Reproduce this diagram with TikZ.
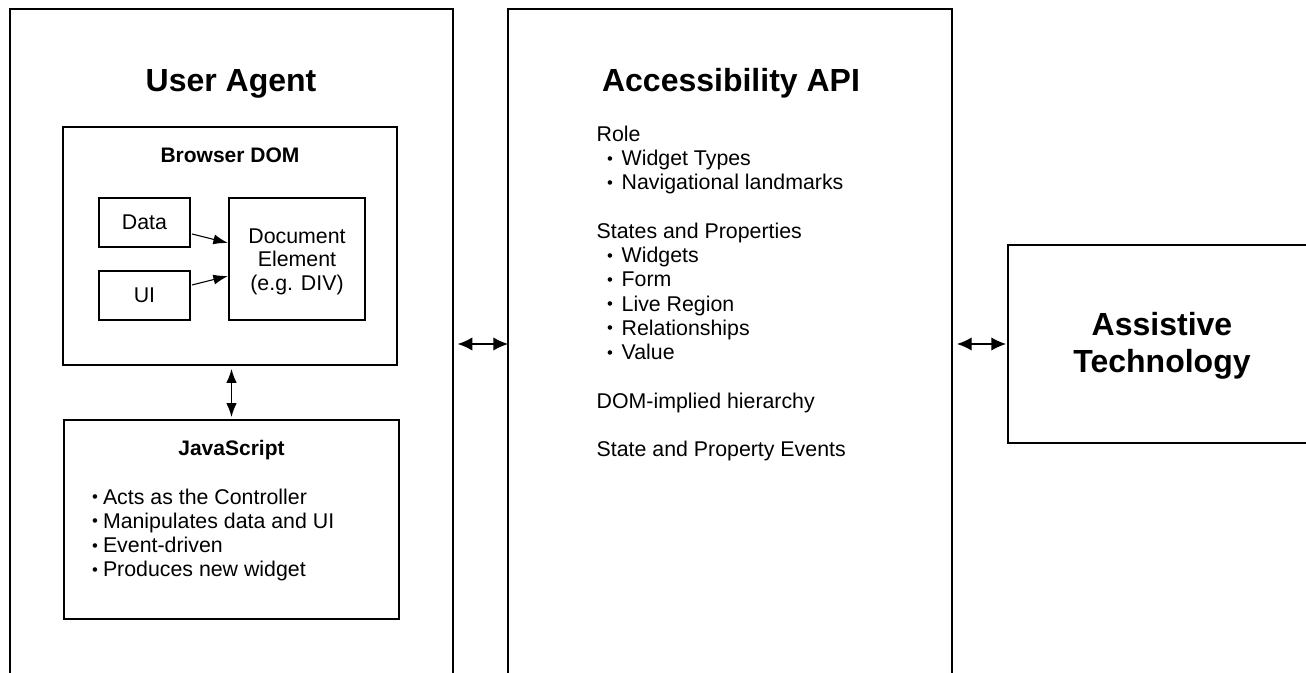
\documentclass[tikz,border=0pt]{standalone}
\usepackage{fontspec}
\setmainfont{Liberation Sans}
\usetikzlibrary{arrows.meta}
\newcommand\rbul[1]{\makebox[#1][l]{\raisebox{1.2pt}{\fontsize{12.5pt}{12.5pt}\selectfont •}}}
\begin{document}
\begin{tikzpicture}[x=0.75pt,y=-0.75pt,
  box/.style={draw, line width=1.1pt, inner sep=0pt, outer sep=0pt},
  txt/.style={inner sep=0pt, outer sep=0pt, font=\fontsize{16pt}{18pt}\selectfont},
  btxt/.style={inner sep=0pt, outer sep=0pt, font=\bfseries\fontsize{15.75pt}{18pt}\selectfont},
  ttl/.style={inner sep=0pt, outer sep=0pt, font=\bfseries\fontsize{24pt}{28pt}\selectfont},
  bigarr/.style={{Latex[length=11pt,width=10pt]}-{Latex[length=11pt,width=10pt]}, line width=1pt},
  varr/.style={{Latex[length=10.5pt,width=8pt]}-{Latex[length=10.5pt,width=8pt]}, line width=1pt},
  sarr/.style={-{Latex[length=11pt,width=7.5pt]}, line width=0.8pt}]
\useasboundingbox (0,0) rectangle (1306,673);
\clip (0,0) rectangle (1306,673);
% main containers
\node[box, minimum width=332.25pt, minimum height=525pt] (ua) at (231.5,359) {};
\node[box, minimum width=333pt, minimum height=525pt] (api) at (730,359) {};
\node[box, minimum width=231pt, minimum height=148.5pt] (at) at (1162,344) {};
\node[ttl, anchor=base] (atT1) at (1162,336) {Assistive};
\node[ttl, anchor=base] (atT2) at (1162,373) {Technology};
% titles
\node[ttl, anchor=base] (uaT) at (231,91.7) {User Agent};
\node[ttl, anchor=base] (apiT) at (731,91.7) {Accessibility API};
% browser DOM
\node[box, minimum width=250.5pt, minimum height=178.5pt] (dom) at (230,246) {};
\node[btxt, anchor=base] (domT) at (230,162.7) {Browser DOM};
\node[box, minimum width=68.25pt, minimum height=36.75pt] (data) at (144.5,222.5) {};
\node[txt, anchor=base] (dataT) at (144.5,230) {Data};
\node[box, minimum width=68.25pt, minimum height=36.75pt] (ui) at (144.5,295.5) {};
\node[txt, anchor=base] (uiT) at (144.5,302.7) {UI};
\node[box, minimum width=102pt, minimum height=91.5pt] (doc) at (297,259) {};
\node[txt, anchor=base] (doc1) at (297,243.3) {Document};
\node[txt, anchor=base] (doc2) at (297,267) {Element};
\node[txt, anchor=base] (doc3) at (297,290.7) {(e.g. DIV)};
\draw[sarr] ([xshift=1.5pt,yshift=-8.6pt]data.east) -- ([xshift=-0.75pt,yshift=12pt]doc.west);
\draw[sarr] ([xshift=1.5pt,yshift=7.9pt]ui.east) -- ([xshift=-0.75pt,yshift=-12.75pt]doc.west);
% JavaScript
\node[box, minimum width=251.25pt, minimum height=149.25pt] (js) at (231.5,519.5) {};
\node[btxt, anchor=base] (jsT) at (231.5,455.7) {JavaScript};
\node[txt, anchor=base west] (js1) at (92,504) {\rbul{8.25pt}Acts as the Controller};
\node[txt, anchor=base west] (js2) at (92,528.3) {\rbul{8.25pt}Manipulates data and UI};
\node[txt, anchor=base west] (js3) at (92,552.6) {\rbul{8.25pt}Event-driven};
\node[txt, anchor=base west] (js4) at (92,576.9) {\rbul{8.25pt}Produces new widget};
\draw[varr, shorten <=3pt, shorten >=2.25pt] (dom.south -| js.north) -- (js.north);
% API text
\node[txt, anchor=base west] (a0) at (596.7,141.5) {Role};
\node[txt, anchor=base west] (a1) at (607,165.75) {\rbul{11pt}Widget Types};
\node[txt, anchor=base west] (a2) at (607,190) {\rbul{11pt}Navigational landmarks};
\node[txt, anchor=base west] (a4) at (596.7,238.5) {States and Properties};
\node[txt, anchor=base west] (a5) at (607,262.75) {\rbul{11pt}Widgets};
\node[txt, anchor=base west] (a6) at (607,287) {\rbul{11pt}Form};
\node[txt, anchor=base west] (a7) at (607,311.25) {\rbul{11pt}Live Region};
\node[txt, anchor=base west] (a8) at (607,335.5) {\rbul{11pt}Relationships};
\node[txt, anchor=base west] (a9) at (607,359.75) {\rbul{11pt}Value};
\node[txt, anchor=base west] (a11) at (596.7,408.25) {DOM-implied hierarchy};
\node[txt, anchor=base west] (a13) at (596.7,456.75) {State and Property Events};
% connectors between containers
\draw[bigarr, shorten <=3.5pt] (ua.east |- at.west) -- (api.west |- at.west);
\draw[bigarr, shorten <=3.75pt, shorten >=1.5pt] (api.east |- at.west) -- (at.west);
\end{tikzpicture}
\end{document}
